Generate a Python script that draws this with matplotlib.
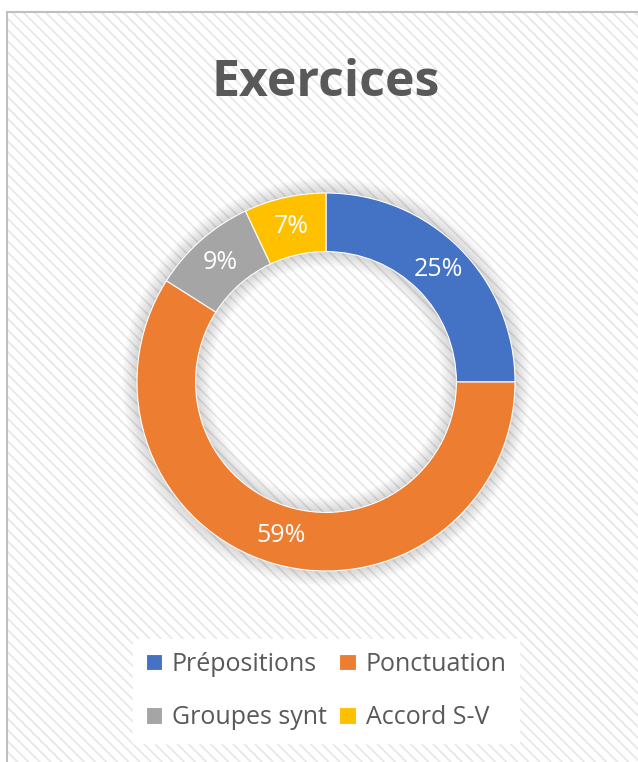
import numpy as np
import matplotlib.pyplot as plt
from matplotlib.patches import Rectangle, Wedge

# données du graphique
categories = ['Prépositions', 'Ponctuation', 'Groupes synt', 'Accord S-V']
valeurs = [25, 59, 9, 7]
couleurs = ['#4472C4', '#ED7D31', '#A5A5A5', '#FFC000']
titre = 'Exercices'

plt.rcParams['font.family'] = ['Open Sans', 'DejaVu Sans']
plt.rcParams['hatch.linewidth'] = 1.3

W, H = 638, 762
fig = plt.figure(figsize=(W / 100, H / 100), dpi=100)
fig.patch.set_facecolor('white')

# fond hachuré + bordure
fond = Rectangle((7 / W, -0.01), 1.0, (H - 12) / H + 0.01, transform=fig.transFigure,
                 facecolor='white', edgecolor='#e8e8e8', linewidth=0,
                 hatch='\\' * 3, zorder=-2)
bord = Rectangle((7 / W, -0.01), 1.0, (H - 12) / H + 0.01, transform=fig.transFigure,
                 facecolor='none', edgecolor='#c0c0c0', linewidth=1.5, zorder=-1)
fig.patches.extend([fond, bord])

# axe du donut
cx, cy, R = 326, 382, 189
k = 1.12
ax = fig.add_axes([(cx - R * k) / W, (H - cy - R * k) / H, 2 * R * k / W, 2 * R * k / H])

largeur = 0.31
# ombre douce autour de l'anneau
for i in range(10):
    d = 0.008 * (i + 1)
    ax.add_patch(Wedge((0, 0), 1 + d, 0, 360, width=largeur + 2 * d,
                       facecolor='#000000', alpha=0.015, linewidth=0, zorder=1))

wedges, textes, autotextes = ax.pie(
    valeurs, colors=couleurs, startangle=90, counterclock=False, radius=1,
    wedgeprops=dict(width=largeur, edgecolor='white', linewidth=0.8),
    autopct=lambda p: f'{p:.0f}%', pctdistance=1 - largeur / 2,
    textprops=dict(color='white', fontsize=18))
for w in wedges:
    w.set_zorder(3)
for t in autotextes:
    t.set_zorder(4)
ax.set_xlim(-k, k)
ax.set_ylim(-k, k)
ax.set_aspect('equal')
ax.axis('off')

fig.text(cx / W, 1 - 83 / H, titre, ha='center', va='center',
         fontsize=36, fontweight='bold', color='#595959')

ordre = [0, 2, 1, 3]  # remplissage par lignes
leg = fig.legend([wedges[i] for i in ordre], [categories[i] for i in ordre],
                 ncol=2, loc='center', bbox_to_anchor=(cx / W, 1 - 691 / H),
                 frameon=True, framealpha=1, fontsize=18, handlelength=0.65,
                 handleheight=0.65, handletextpad=0.4, columnspacing=0.5,
                 labelspacing=1.15, borderpad=0.5, fancybox=False)
leg.get_frame().set_facecolor('white')
leg.get_frame().set_edgecolor('white')
for t in leg.get_texts():
    t.set_color('#595959')

fig.savefig('out.png', dpi=100)
